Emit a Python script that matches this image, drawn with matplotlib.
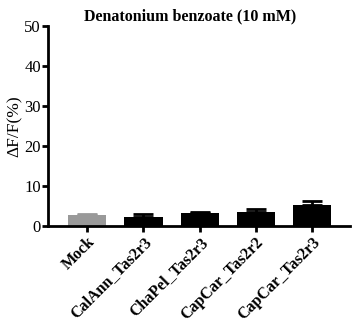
import matplotlib
matplotlib.use("Agg")
import matplotlib.pyplot as plt
import numpy as np

categories = ["Mock", "CalAnn_Tas2r3", "ChaPel_Tas2r3", "CapCar_Tas2r2", "CapCar_Tas2r3"]
values = [2.75, 2.25, 3.3, 3.6, 5.25]
errors = [0.35, 0.65, 0.3, 0.7, 1.05]
colors = ["#999999", "#000000", "#000000", "#000000", "#000000"]

plt.rcParams['font.family'] = ['Liberation Serif', 'DejaVu Serif']

fig = plt.figure(figsize=(3.58, 3.2), dpi=100)
ax = fig.add_axes([0.134, 0.294, 0.844, 0.625])

x = np.arange(len(categories))
ax.bar(x, values, width=0.68, color=colors, zorder=2)
for xi, v, e, c in zip(x, values, errors, colors):
    ax.errorbar(xi, v, yerr=[[0], [e]], fmt='none', ecolor=c, elinewidth=2,
                capsize=7, capthick=2, zorder=1)

ax.set_xlim(-0.7, 4.68)
ax.set_ylim(0, 50)
ax.set_yticks([0, 10, 20, 30, 40, 50])
ax.set_xticks(x)
ax.set_xticklabels(categories, rotation=45, ha='right', rotation_mode='anchor',
                   fontweight='bold', fontsize=11.5)
for s in ['top', 'right']:
    ax.spines[s].set_visible(False)
for s in ['left', 'bottom']:
    ax.spines[s].set_linewidth(2)
ax.tick_params(axis='both', width=2, length=4, labelsize=12)
ax.tick_params(axis='x', labelsize=11.5, pad=2)
ax.tick_params(axis='y', pad=1)
ax.set_ylabel("ΔF/F(%)", fontsize=12.5, labelpad=1)
ax.set_title("Denatonium benzoate (10 mM)", fontweight='bold', fontsize=11.5, pad=4, x=0.47)

fig.savefig("out.png", dpi=100)
